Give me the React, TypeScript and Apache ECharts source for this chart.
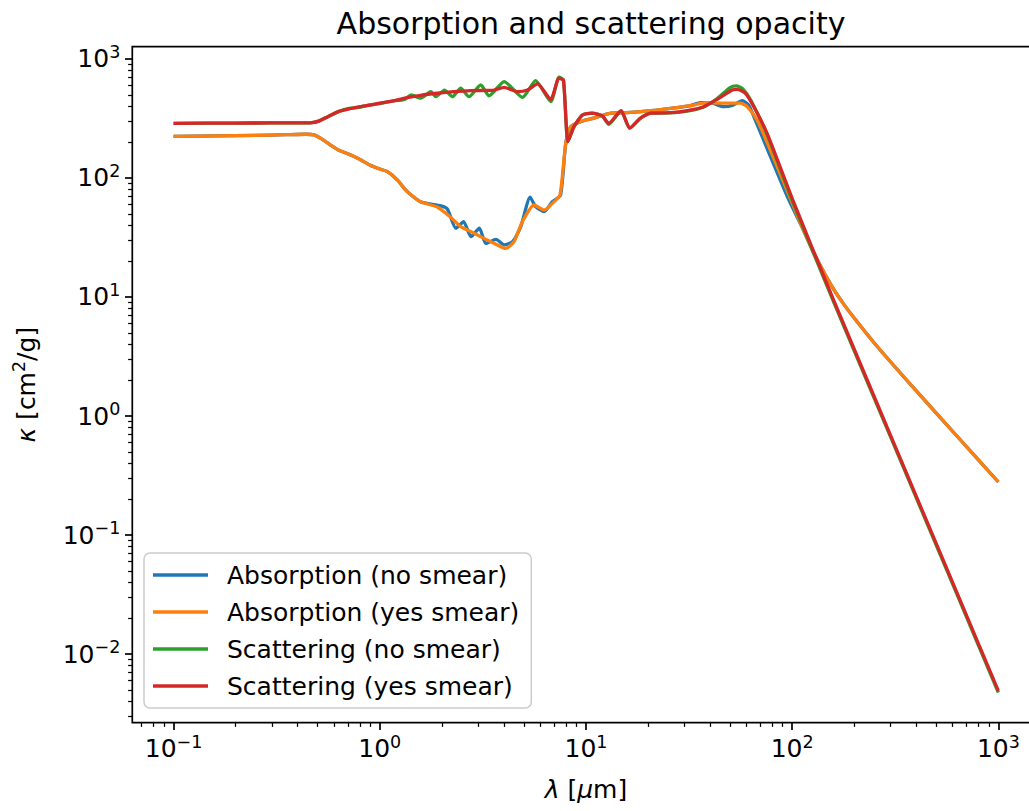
import React, { useEffect, useRef } from "react";
import * as echarts from "echarts";

// ---- Data (λ in μm, κ in cm²/g) ----
const lambdaAbsNoSmear = [0.1, 0.16, 0.25, 0.35, 0.44, 0.48, 0.52, 0.575, 0.63, 0.71, 0.79, 0.9, 1.0, 1.09, 1.22, 1.32, 1.42, 1.58, 1.98, 2.13, 2.34, 2.55, 2.77, 3.04, 3.27, 3.66, 4.01, 4.41, 4.83, 5.36, 5.7, 6.27, 6.87, 7.53, 7.98, 8.43, 9.42, 10.9, 13.2, 15.8, 20.6, 25.7, 32.1, 35.9, 40.7, 46.7, 51.3, 57.3, 61.7, 66.1, 95.5, 112.2, 125.9, 141.3, 158.5, 177.8, 199.5, 251.2, 398.1, 631, 1000];
const kappaAbsNoSmear = [224, 226, 228, 231, 233, 230, 214, 190, 172, 158, 145, 128, 119, 113, 96, 81, 72, 63, 58.2, 54.6, 37.8, 43, 32.1, 37.8, 28.2, 30.5, 27.4, 29.2, 39, 68.9, 57.4, 52.1, 63.2, 71.9, 196, 270, 297, 318, 350, 354, 368, 385, 406, 430, 427, 397, 407, 447, 407, 309, 67.6, 38.0, 24.5, 16.6, 11.7, 8.71, 6.68, 4.07, 1.64, 0.676, 0.279];

const lambdaAbsSmear = [0.1, 0.16, 0.25, 0.35, 0.44, 0.48, 0.52, 0.575, 0.63, 0.71, 0.79, 0.9, 1.0, 1.09, 1.22, 1.32, 1.42, 1.58, 1.9, 2.2, 2.47, 2.77, 3.2, 3.6, 4.08, 4.48, 4.92, 5.6, 6.27, 6.87, 7.48, 7.98, 8.43, 9.42, 10.9, 13.2, 15.8, 20.6, 25.7, 32.1, 38.7, 44.9, 56.1, 60.5, 67.6, 75.5, 97.9, 112.2, 125.9, 141.3, 158.5, 177.8, 199.5, 251.2, 398.1, 631, 1000];
const kappaAbsSmear = [224, 226, 228, 231, 233, 230, 214, 190, 172, 158, 145, 128, 119, 113, 96, 81, 72, 63, 57, 47, 39, 35.4, 31.1, 28.2, 25.6, 29.2, 43, 59.3, 53.8, 61.2, 72, 196, 270, 297, 318, 350, 354, 368, 385, 406, 430, 425, 425, 397, 307, 200, 67.5, 38.0, 24.5, 16.6, 11.7, 8.71, 6.68, 4.07, 1.64, 0.676, 0.279];

const lambdaScaNoSmear = [0.1, 0.2, 0.3, 0.4, 0.47, 0.51, 0.56, 0.63, 0.71, 0.79, 0.89, 1.0, 1.15, 1.32, 1.42, 1.58, 1.77, 1.87, 2.06, 2.25, 2.47, 2.71, 3.09, 3.39, 4.01, 4.92, 5.7, 6.75, 7.4, 7.78, 8.18, 8.75, 9.62, 10.7, 12.0, 12.9, 14.8, 16.3, 18.4, 20.6, 25.7, 31.0, 37.2, 43.3, 50.0, 53.7, 57.5, 63.1, 75.5, 100.9, 158.5, 316, 631, 1000];
const kappaScaNoSmear = [288, 289, 290, 290, 292, 302, 327, 361, 385, 391, 412, 422, 442, 458, 498, 468, 531, 482, 548, 482, 568, 482, 605, 490, 646, 476, 658, 438, 702, 665, 202, 270, 338, 350, 332, 282, 366, 262, 318, 350, 352, 364, 394, 465, 575, 593, 562, 447, 232, 62, 9.2, 0.54, 0.0315, 0.00473];

const lambdaScaSmear = [0.1, 0.2, 0.3, 0.4, 0.47, 0.51, 0.56, 0.63, 0.71, 0.79, 0.9, 1.0, 1.15, 1.32, 1.58, 1.9, 2.29, 2.77, 3.59, 4.01, 4.66, 5.2, 5.82, 6.75, 7.4, 7.78, 8.18, 8.75, 9.62, 10.7, 12.0, 12.9, 14.8, 16.3, 18.4, 20.6, 25.7, 31.0, 37.2, 43.3, 51.2, 54.1, 59.3, 65.2, 75.5, 101.6, 158.5, 316, 631, 1000];
const kappaScaSmear = [288, 289, 290, 290, 292, 302, 327, 361, 380, 396, 410, 425, 442, 468, 495, 515, 531, 542, 548, 578, 531, 548, 617, 458, 689, 658, 202, 270, 338, 350, 332, 288, 368, 262, 318, 350, 354, 368, 397, 458, 548, 556, 515, 397, 238, 63, 9.5, 0.556, 0.0325, 0.0049];

const seriesNames = [
  "Absorption (no smear)",
  "Absorption (yes smear)",
  "Scattering (no smear)",
  "Scattering (yes smear)",
];
const seriesColors = ["#1f77b4", "#ff7f0e", "#2ca02c", "#d62728"];

// Axis decades (exponents of 10)
const xMajorExp = [-1, 0, 1, 2, 3];
const yMajorExp = [-2, -1, 0, 1, 2, 3];
const xRange = [-1.2, 3.2];
const yRange = [-2.577, 3.103];

const FONT = "DejaVu Sans";

function minorTicks(lo: number, hi: number): number[] {
  const out: number[] = [];
  for (let n = Math.floor(lo) - 1; n <= Math.ceil(hi); n++) {
    for (let k = 2; k <= 9; k++) {
      const v = n + Math.log10(k);
      if (v > lo && v < hi) out.push(v);
    }
  }
  return out;
}

function supLabel(v: number): string {
  const e = Math.round(v);
  const s = e < 0 ? "\u2212" + Math.abs(e) : String(e);
  return `{b|10}{s|${s}}`;
}

const labelRich = {
  b: { fontFamily: FONT, fontSize: 25, color: "#000" },
  s: { fontFamily: FONT, fontSize: 17.5, color: "#000", padding: [0, 0, 14, 0] },
};

function toLog(lam: number[], kap: number[]): number[][] {
  return lam.map((l, i) => [Math.log10(l), Math.log10(kap[i])]);
}

export default function App() {
  const ref = useRef<HTMLDivElement>(null);

  useEffect(() => {
    document.body.style.margin = "0";
    if (!ref.current) return;
    const chart = echarts.init(ref.current, undefined, { renderer: "svg" });

    const datasets = [
      toLog(lambdaAbsNoSmear, kappaAbsNoSmear),
      toLog(lambdaAbsSmear, kappaAbsSmear),
      toLog(lambdaScaNoSmear, kappaScaNoSmear),
      toLog(lambdaScaSmear, kappaScaSmear),
    ];

    const commonAxis = {
      splitLine: { show: false },
      axisLine: { show: false, onZero: false },
    };

    chart.setOption({
      animation: false,
      backgroundColor: "#ffffff",
      title: {
        text: "Absorption and scattering opacity",
        left: 586,
        top: 3,
        textAlign: "center",
        textStyle: { fontFamily: FONT, fontSize: 30, fontWeight: "normal", color: "#000" },
      },
      grid: {
        left: 132.3,
        top: 46.7,
        width: 907.3,
        height: 676,
        outerBoundsMode: "none",
        containLabel: false,
        show: true,
        borderColor: "#000",
        borderWidth: 1.7,
        backgroundColor: "transparent",
      },
      legend: {
        orient: "vertical",
        left: 144,
        top: 553,
        itemWidth: 55,
        itemHeight: 3.4,
        itemGap: 11,
        icon: "rect",
        selectedMode: false,
        padding: [9, 12, 9, 9],
        backgroundColor: "rgba(255,255,255,0.8)",
        borderColor: "#cccccc",
        borderWidth: 1.5,
        borderRadius: 6,
        textStyle: { fontFamily: FONT, fontSize: 25, color: "#000", lineHeight: 26, padding: [0, 0, 0, 14] },
        data: seriesNames,
      },
      xAxis: [
        {
          type: "value",
          min: xRange[0],
          max: xRange[1],
          position: "bottom",
          ...commonAxis,
          name: "{i|λ} [{i|μ}m]",
          nameLocation: "middle",
          nameGap: 54,
          nameTextStyle: {
            fontFamily: FONT,
            fontSize: 25,
            color: "#000",
            rich: { i: { fontFamily: FONT, fontSize: 25, fontStyle: "italic", color: "#000" } },
          },
          axisTick: {
            show: true,
            customValues: xMajorExp,
            length: 7.3,
            lineStyle: { color: "#000", width: 1.7 },
          },
          axisLabel: {
            show: true,
            customValues: xMajorExp,
            margin: 10,
            formatter: (v: number) => supLabel(v),
            rich: labelRich,
          },
        },
        {
          type: "value",
          min: xRange[0],
          max: xRange[1],
          position: "bottom",
          ...commonAxis,
          axisTick: {
            show: true,
            customValues: minorTicks(xRange[0], xRange[1]),
            length: 4.2,
            lineStyle: { color: "#000", width: 1.25 },
          },
          axisLabel: { show: false },
        },
      ],
      yAxis: [
        {
          type: "value",
          min: yRange[0],
          max: yRange[1],
          position: "left",
          ...commonAxis,
          name: "{i|κ} [cm{s|2}/g]",
          nameLocation: "middle",
          nameRotate: 90,
          nameGap: 90,
          nameTextStyle: {
            fontFamily: FONT,
            fontSize: 25,
            color: "#000",
            rich: {
              i: { fontFamily: FONT, fontSize: 25, fontStyle: "italic", color: "#000" },
              s: { fontFamily: FONT, fontSize: 17.5, color: "#000", padding: [0, 0, 14, 0] },
            },
          },
          axisTick: {
            show: true,
            customValues: yMajorExp,
            length: 7.3,
            lineStyle: { color: "#000", width: 1.7 },
          },
          axisLabel: {
            show: true,
            customValues: yMajorExp,
            margin: 12,
            formatter: (v: number) => supLabel(v),
            rich: labelRich,
          },
        },
        {
          type: "value",
          min: yRange[0],
          max: yRange[1],
          position: "left",
          ...commonAxis,
          axisTick: {
            show: true,
            customValues: minorTicks(yRange[0], yRange[1]),
            length: 4.2,
            lineStyle: { color: "#000", width: 1.25 },
          },
          axisLabel: { show: false },
        },
      ],
      series: datasets.map((d, i) => ({
        name: seriesNames[i],
        type: "line",
        xAxisIndex: 0,
        yAxisIndex: 0,
        data: d,
        showSymbol: false,
        symbol: "none",
        smooth: 0.2,
        color: seriesColors[i],
        lineStyle: { color: seriesColors[i], width: 3.3, join: "round", cap: "butt" },
        z: 2 + i,
      })),
    });

    return () => {
      chart.dispose();
    };
  }, []);

  return <div ref={ref} style={{ width: 1029, height: 811 }} />;
}
